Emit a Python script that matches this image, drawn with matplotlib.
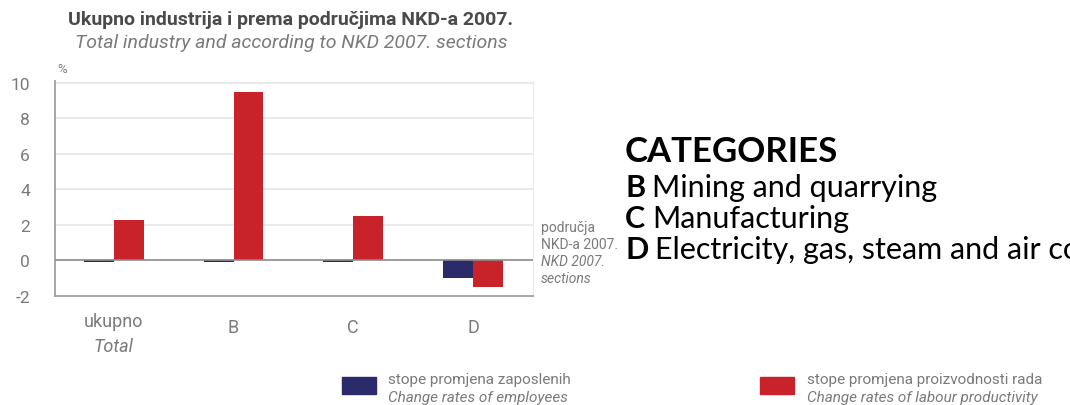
# Change rates of employees and labour productivity, industry by NKD 2007 sections

import numpy as np
import matplotlib.pyplot as plt
from matplotlib.patches import Rectangle

# --- DATA ---
cats_hr = ['ukupno', 'B', 'C', 'D']
cats_en = ['Total', '', '', '']
employees = [-0.1, -0.1, -0.1, -1.0]
productivity = [2.3, 9.5, 2.5, -1.5]
yticks = [-2, 0, 2, 4, 6, 8, 10]
legend_hr = ['stope promjena zaposlenih', 'stope promjena proizvodnosti rada']
legend_en = ['Change rates of employees', 'Change rates of labour productivity']
side_lines = ['B Mining and quarrying', 'C Manufacturing',
              'D Electricity, gas, steam and air conditioning supply']

# --- STYLE ---
NARROW = ['Roboto', 'DejaVu Sans']
CAL = ['Lato', 'DejaVu Sans']
BLUE = '#2b2a6b'
RED = '#c8232b'
GREY = '#7a7a7a'

fig = plt.figure(figsize=(10.70, 4.06), dpi=100)
ax = fig.add_axes([55/1070, 1 - 297/406, 478/1070, 215/406])

x = np.arange(len(cats_hr))
w = 0.25
ax.bar(x - w/2, employees, w, color=BLUE, zorder=3)
ax.bar(x + w/2, productivity, w, color=RED, zorder=3)

ax.set_xlim(-0.49, 3.5)
ax.set_ylim(-2, 10.1)
ax.set_yticks(yticks)
ax.set_yticklabels([str(t) for t in yticks], family=NARROW, fontsize=12.5, color=GREY)
ax.tick_params(axis='y', length=0, pad=18)
ax.set_xticks([])
for t in yticks[2:]:
    ax.axhline(t, color='#e6e6e6', lw=1.2, zorder=1)
ax.axhline(0, color='#8a8a8a', lw=1.2, zorder=4)
ax.spines['top'].set_visible(False)
ax.spines['right'].set_color('#ececec')
ax.spines['left'].set_color('#a0a0a0')
ax.spines['bottom'].set_color('#a0a0a0')
ax.spines['left'].set_linewidth(1.3)
ax.spines['bottom'].set_linewidth(1.3)

# category labels below the axis
for xi, hr, en in zip(x, cats_hr, cats_en):
    if en:
        ax.text(xi, -3.4, hr, ha='center', va='center', family=NARROW,
                fontsize=13, color=GREY)
        ax.text(xi, -4.8, en, ha='center', va='center', family=NARROW,
                fontsize=13, color=GREY, style='italic')
    else:
        ax.text(xi, -3.75, hr, ha='center', va='center', family=NARROW,
                fontsize=13, color=GREY)

ax.text(0.005, 1.04, '%', transform=ax.transAxes, family=NARROW,
        fontsize=9.5, color=GREY)

# titles
fig.text(68/1070, 1 - 20/406, 'Ukupno industrija i prema područjima NKD-a 2007.',
         family=NARROW, fontsize=14, weight='bold', color='#4a4a4a', va='center')
fig.text(75/1070, 1 - 43/406, 'Total industry and according to NKD 2007. sections',
         family=NARROW, fontsize=14, style='italic', color=GREY, va='center')

# section note right of plot
note = [('područja', 'normal'), ('NKD-a 2007.', 'normal'),
        ('NKD 2007.', 'italic'), ('sections', 'italic')]
for i, (txt, st) in enumerate(note):
    fig.text(541/1070, 1 - (228 + i*17)/406, txt, family=NARROW, fontsize=10,
             color=GREY, style=st, va='center')

# legend
for px, tx, col, hr, en in [(342, 388, BLUE, legend_hr[0], legend_en[0]),
                            (760, 807, RED, legend_hr[1], legend_en[1])]:
    fig.patches.append(Rectangle((px/1070, 1 - 395/406), 34/1070, 17/406,
                                 transform=fig.transFigure, color=col))
    fig.text(tx/1070, 1 - 380/406, hr, family=NARROW, fontsize=11,
             color=GREY, va='center')
    fig.text(tx/1070, 1 - 398/406, en, family=NARROW, fontsize=11,
             color=GREY, va='center', style='italic')

# category key on the right
x0 = 625
fig.text(x0/1070, 1 - 152/406, 'CATEGORIES', family=CAL, fontsize=25,
         weight='bold', color='black', va='center')
renderer = fig.canvas.get_renderer()
for i, line in enumerate(side_lines):
    code, rest = line.split(' ', 1)
    yy = 1 - (188 + i*31)/406
    t = fig.text(x0/1070, yy, code, family=CAL, fontsize=22, weight='bold',
                 color='black', va='center')
    bb = t.get_window_extent(renderer)
    fig.text((bb.x1 + 7)/1070, yy, rest, family=CAL, fontsize=22,
             color='black', va='center')

plt.savefig('out.png', dpi=100)
